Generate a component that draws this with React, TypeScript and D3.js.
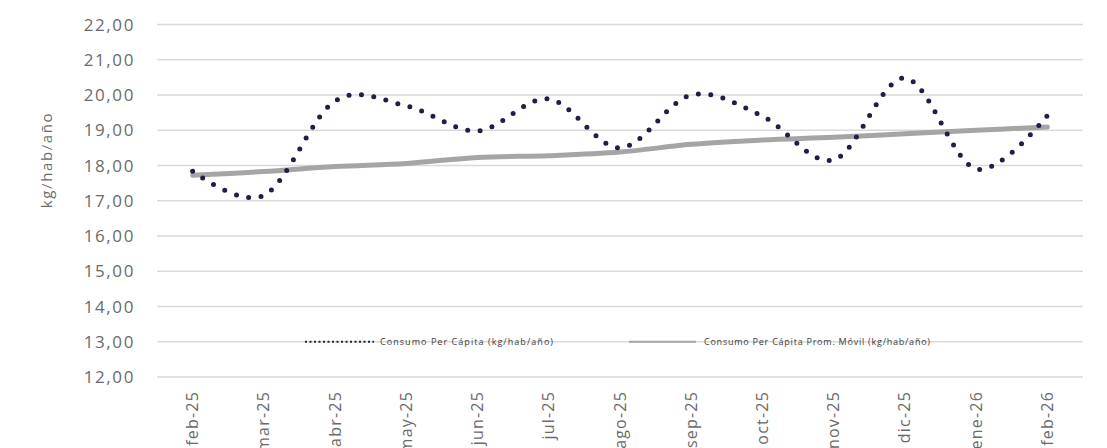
import React, { useEffect, useRef } from 'react';
import * as d3 from 'd3';

const months = ['feb-25', 'mar-25', 'abr-25', 'may-25', 'jun-25', 'jul-25', 'ago-25',
    'sep-25', 'oct-25', 'nov-25', 'dic-25', 'ene-26', 'feb-26'];
const perCapita = [17.84, 17.15, 19.83, 19.69, 18.98, 19.89, 18.5, 20.0, 19.4, 18.16, 20.48, 17.9, 19.42];
const movingAvg = [17.72, 17.83, 17.97, 18.06, 18.23, 18.28, 18.38, 18.6, 18.72, 18.8, 18.9, 19.0, 19.09];
const yTicks = [12, 13, 14, 15, 16, 17, 18, 19, 20, 21, 22];
const seriesNames = ['Consumo Per Cápita (kg/hab/año)', 'Consumo Per Cápita Prom. Móvil (kg/hab/año)'];

export default function App() {
    const svgRef = useRef<SVGSVGElement>(null);

    useEffect(() => {
        const width = 1107, height = 448;
        const plot = {left: 157, right: 1083, top: 24.5, bottom: 377};
        const font = '"Open Sans", Lato, sans-serif';
        const textColor = '#6b6b6b';

        let svg = d3.select(svgRef.current);
        svg.selectAll('*').remove();
        svg.attr('width', width).attr('height', height);

        let x = d3.scaleBand().domain(months).range([plot.left, plot.right]);
        let y = d3.scaleLinear().domain([12, 22]).range([plot.bottom, plot.top]);
        let cx = (m: string) => (x(m) as number) + x.bandwidth() / 2;

        // grid
        svg.append('g')
            .selectAll('line')
            .data(yTicks)
            .join('line')
            .attr('x1', plot.left)
            .attr('x2', plot.right)
            .attr('y1', d => y(d))
            .attr('y2', d => y(d))
            .style('stroke', '#d9d9d9')
            .style('stroke-width', 1.5);

        // y tick labels
        svg.append('g')
            .selectAll('text')
            .data(yTicks)
            .join('text')
            .attr('x', 135)
            .attr('y', d => y(d))
            .attr('dy', '0.36em')
            .attr('text-anchor', 'end')
            .style('font-family', font)
            .style('font-size', '17px')
            .style('letter-spacing', '1.6px')
            .style('fill', textColor)
            .text(d => d3.format('.2f')(d).replace('.', ','));

        // y title
        svg.append('text')
            .attr('transform', 'translate(52,160) rotate(-90)')
            .attr('text-anchor', 'middle')
            .style('font-family', font)
            .style('font-size', '15px')
            .style('letter-spacing', '1.6px')
            .style('fill', textColor)
            .text('kg/hab/año');

        // x labels (the lower ones run off the bottom, as in the original)
        svg.append('g')
            .selectAll('text')
            .data(months)
            .join('text')
            .attr('transform', d => 'translate(' + (cx(d) + 5.5) + ',391) rotate(-90)')
            .attr('text-anchor', 'end')
            .style('font-family', font)
            .style('font-size', '16px')
            .style('letter-spacing', '1.2px')
            .style('fill', textColor)
            .text(d => d);

        // legend
        let legend = svg.append('g').attr('transform', 'translate(0,' + y(13) + ')');
        legend.append('line')
            .attr('x1', 305).attr('x2', 374)
            .style('stroke', '#1f1f45')
            .style('stroke-width', 2)
            .style('stroke-dasharray', '2 2.5');
        legend.append('text')
            .attr('x', 380).attr('dy', '0.35em')
            .attr('textLength', 173).attr('lengthAdjust', 'spacing')
            .style('font-family', font).style('font-size', '9px').style('fill', '#404040')
            .text(seriesNames[0]);
        legend.append('line')
            .attr('x1', 629).attr('x2', 696)
            .style('stroke', '#a5a5a5')
            .style('stroke-width', 2.2);
        legend.append('text')
            .attr('x', 704).attr('dy', '0.35em')
            .attr('textLength', 226).attr('lengthAdjust', 'spacing')
            .style('font-family', font).style('font-size', '9px').style('fill', '#404040')
            .text(seriesNames[1]);

        let line = d3.line<number>()
            .x((d, i) => cx(months[i]))
            .y(d => y(d))
            .curve(d3.curveCardinal.tension(0));

        svg.append('path')
            .datum(movingAvg)
            .style('fill', 'none')
            .style('stroke', '#a5a5a5')
            .style('stroke-width', 5)
            .style('stroke-linecap', 'round')
            .attr('d', line);

        svg.append('path')
            .datum(perCapita)
            .style('fill', 'none')
            .style('stroke', '#1f1f45')
            .style('stroke-width', 5)
            .style('stroke-linecap', 'round')
            .style('stroke-dasharray', '0 12.5')
            .attr('d', line);
    }, []);

    return (
        <svg ref={svgRef} style={{position: 'absolute', left: 0, top: 0, background: '#fff'}}/>
    );
}
